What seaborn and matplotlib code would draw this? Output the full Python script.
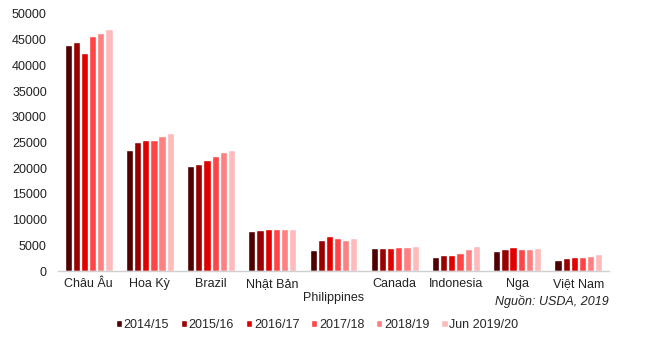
import matplotlib
matplotlib.use("Agg")
import matplotlib.pyplot as plt
import seaborn as sns
import pandas as pd

categories = ["Châu Âu", "Hoa Kỳ", "Brazil", "Nhật Bản", "Philippines", "Canada", "Indonesia", "Nga", "Việt Nam"]
seasons = ["2014/15", "2015/16", "2016/17", "2017/18", "2018/19", "Jun 2019/20"]
v_2014 = [44000, 23500, 20400, 7800, 4100, 4500, 2700, 3900, 2150]
v_2015 = [44500, 25100, 20800, 8000, 6000, 4500, 3100, 4300, 2550]
v_2016 = [42400, 25450, 21600, 8200, 6800, 4500, 3100, 4700, 2700]
v_2017 = [45700, 25450, 22400, 8200, 6400, 4650, 3500, 4300, 2700]
v_2018 = [46300, 26250, 23150, 8200, 6000, 4650, 4300, 4300, 2900]
v_2019 = [47050, 26850, 23550, 8200, 6400, 4850, 4850, 4500, 3300]
colors = ["#4f0000", "#990000", "#e10000", "#ff4545", "#ff8080", "#ffbbbb"]

series = [v_2014, v_2015, v_2016, v_2017, v_2018, v_2019]
rows = []
for s, vals in zip(seasons, series):
    for c, v in zip(categories, vals):
        rows.append({"country": c, "season": s, "value": v})
df = pd.DataFrame(rows)

sns.set_style("white")
plt.rcParams["font.family"] = ["Liberation Sans", "DejaVu Sans"]

fig = plt.figure(figsize=(6.49, 3.41), dpi=100)
ax = fig.add_axes([58/649, 1-271/341, (609-58)/649, (271-14)/341])
sns.barplot(data=df, x="country", y="value", hue="season", order=categories,
            hue_order=seasons, palette=colors, width=0.8, gap=0.12,
            saturation=1, ax=ax, legend=True)

ax.set_ylim(0, 50000)
ax.set_xlim(-0.5, len(categories) - 0.5)
ax.set_yticks(range(0, 50001, 5000))
ax.set_yticklabels([str(v) for v in range(0, 50001, 5000)], fontsize=9, color="#222222")
ax.set_xlabel("")
ax.set_ylabel("")
labels = [("\n" + c if c == "Philippines" else c) for c in categories]
ax.set_xticks(range(len(categories)))
ax.set_xticklabels(labels, fontsize=9, color="#222222")
ax.tick_params(axis="y", length=0, pad=8)
ax.tick_params(axis="x", length=0, pad=5)
for side in ["top", "right", "left"]:
    ax.spines[side].set_visible(False)
ax.spines["bottom"].set_color("#d0d0d0")
ax.spines["bottom"].set_linewidth(1)

leg = ax.legend(loc="center", bbox_to_anchor=((317 - 58) / 551, (271 - 325) / 257),
                ncol=6, frameon=False, fontsize=9, handlelength=0.5, handleheight=0.5,
                handletextpad=0.15, columnspacing=0.93, title=None)

fig.text(609/649, 1 - 302/341, "Nguồn: USDA, 2019", ha="right", va="center",
         fontsize=9, style="italic", color="#222222")

fig.savefig("out.png", dpi=100)
